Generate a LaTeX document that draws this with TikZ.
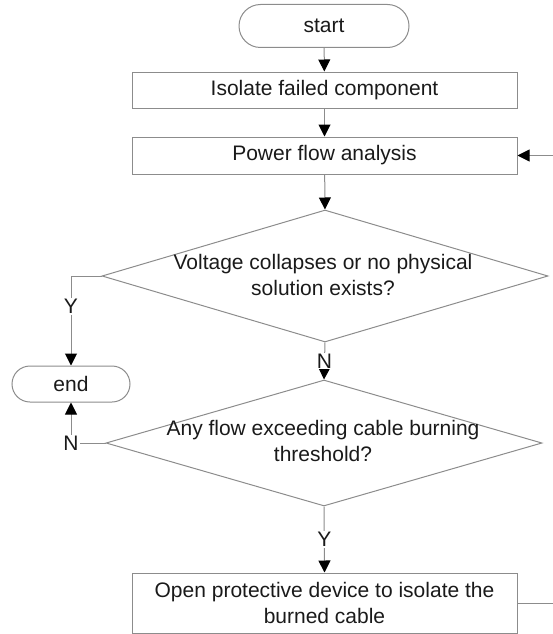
\documentclass[tikz,border=0pt]{standalone}
\usepackage{fontspec}
\setmainfont{Liberation Sans}
\usetikzlibrary{arrows.meta,shapes.geometric,shapes.misc}
\definecolor{edge}{HTML}{8C8C8C}
\definecolor{ink}{HTML}{1A1A1A}
\begin{document}
\begin{tikzpicture}[x=1pt,y=-1pt,
  every node/.style={font=\fontsize{21}{26}\selectfont, text=ink},
  flow/.style={draw=edge, line width=1pt},
  process/.style={flow, rectangle, minimum width=385pt, inner sep=0pt},
  terminal/.style={flow, rounded rectangle, inner sep=0pt},
  decision/.style={flow, diamond, inner sep=0pt},
  link/.style={draw=edge, line width=1pt, -{Triangle[width=12pt,length=12pt,black]}},
  plain/.style={draw=edge, line width=1pt},
  tag/.style={fill=white, inner sep=1pt}
]
\useasboundingbox (0,0) rectangle (553,634);

% main column
\node[terminal, minimum width=170pt, minimum height=43pt] (start) at (324,26) {start};
\node[process, minimum height=36pt] (isolate) at (324.5,90) {Isolate failed component};
\node[process, minimum height=37pt] (pf) at (324.5,155.5) {Power flow analysis};
\node[decision, minimum width=446pt, minimum height=132pt] (d1) at (325,276) {};
\node[align=center, inner sep=0pt] (q1) at (323,275) {Voltage collapses or no physical\\solution exists?};
\node[terminal, minimum width=118pt, minimum height=36pt] (end) at (71,384) {end};
\node[decision, minimum width=436pt, minimum height=126pt] (d2) at (324,443) {};
\node[align=center, inner sep=0pt] (q2) at (323,441) {Any flow exceeding cable burning\\threshold?};
\node[process, minimum height=60pt, align=center] (open) at (324.5,603) {Open protective device to isolate the\\burned cable};

% connectors
\draw[link] (start) -- (isolate);
\draw[link] (isolate) -- (pf);
\draw[link] (pf) -- (d1.north);
\draw[link] (d1.west) -| (end.north) node[tag, pos=0.67] (y1) {Y};
\draw[link] (d1.south) -- (d2.north) node[tag, midway] (n1) {N};
\draw[link] (d2.west) -| (end.south) node[tag, pos=0.5] (n2) {N};
\draw[link] (d2.south) -- (open.north) node[tag, midway] (y2) {Y};

% loop back to the power flow analysis
\coordinate (fbTop) at (554,155.5);
\coordinate (fbBottom) at (554,603);
\draw[link] (open.east) -- (fbBottom) -- (fbTop) -- (pf.east);
\end{tikzpicture}
\end{document}
